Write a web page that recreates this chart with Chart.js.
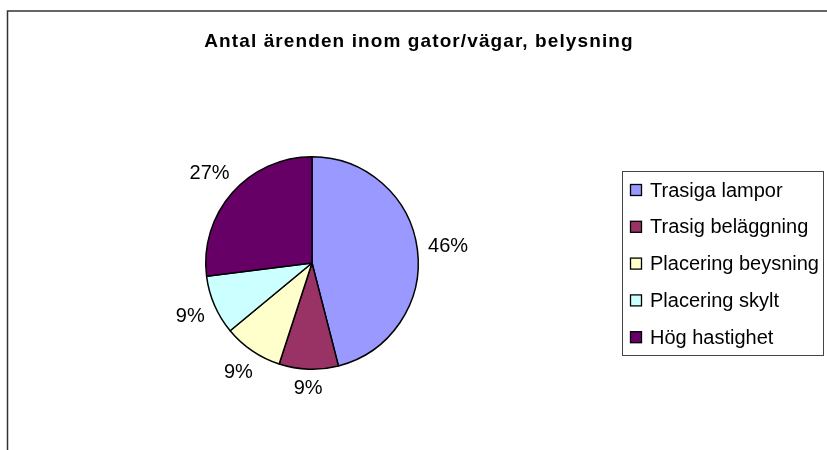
<!DOCTYPE html>
<html>
<head>
<meta charset="utf-8">
<script src="https://cdn.jsdelivr.net/npm/chart.js@4/dist/chart.umd.min.js"></script>
<style>
  html, body { margin: 0; padding: 0; background: #fff; }
  canvas { display: block; }
</style>
</head>
<body>
<canvas id="pie" width="827" height="450"></canvas>
<script>
// chart data
const title = 'Antal ärenden inom gator/vägar, belysning';
const categories = ['Trasiga lampor', 'Trasig beläggning', 'Placering beysning', 'Placering skylt', 'Hög hastighet'];
const shares = [46, 9, 9, 9, 27];
const colors = ['#9999FF', '#993366', '#FFFFCC', '#CCFFFF', '#660066'];

const FONT = '"Liberation Sans", Arial, sans-serif';

// frame, title, outside labels and legend box
const decor = {
    id: 'decor',
    beforeDraw(chart) {
        const ctx = chart.ctx;
        ctx.save();
        ctx.strokeStyle = '#333';
        ctx.lineWidth = 1.5;
        ctx.strokeRect(7.5, 11, 840, 460);
        ctx.restore();
    },
    afterDraw(chart) {
        const ctx = chart.ctx;
        ctx.save();

        ctx.fillStyle = '#000';
        ctx.font = 'bold 19px ' + FONT;
        ctx.letterSpacing = '1.1px';
        ctx.textAlign = 'center';
        ctx.textBaseline = 'alphabetic';
        ctx.fillText(title, 419, 47);
        ctx.letterSpacing = '0px';

        // percentage labels outside each slice
        ctx.font = '20px ' + FONT;
        ctx.textBaseline = 'middle';
        const total = shares.reduce((a, b) => a + b, 0);
        chart.getDatasetMeta(0).data.forEach((arc, i) => {
            const mid = (arc.startAngle + arc.endAngle) / 2;
            const ux = Math.cos(mid), uy = Math.sin(mid);
            const txt = Math.round(shares[i] / total * 100) + '%';
            const hw = ctx.measureText(txt).width / 2, hh = 8;
            const d = arc.outerRadius + 10 + Math.abs(ux) * hw + Math.abs(uy) * hh;
            ctx.fillText(txt, arc.x + ux * d, arc.y + uy * d + 1);
        });

        // legend
        ctx.strokeStyle = '#444';
        ctx.lineWidth = 1;
        ctx.strokeRect(622.5, 171.5, 201, 184);
        ctx.textAlign = 'left';
        categories.forEach((c, i) => {
            const y = 190 + i * 36.8;
            ctx.fillStyle = colors[i];
            ctx.fillRect(630.5, y - 5.5, 11, 11);
            ctx.strokeStyle = '#000';
            ctx.lineWidth = 1.3;
            ctx.strokeRect(630.5, y - 5.5, 11, 11);
            ctx.fillStyle = '#000';
            ctx.fillText(c, 650, y + 1);
        });
        ctx.restore();
    }
};

new Chart(document.getElementById('pie').getContext('2d'), {
    type: 'pie',
    data: {
        labels: categories,
        datasets: [{
            data: shares,
            backgroundColor: colors,
            borderColor: '#000',
            borderWidth: 1.5
        }]
    },
    options: {
        responsive: false,
        animation: false,
        layout: {
            padding: { left: 205, right: 408, top: 156, bottom: 80 }
        },
        plugins: {
            legend: { display: false },
            tooltip: { enabled: false }
        }
    },
    plugins: [decor]
});
</script>
</body>
</html>
